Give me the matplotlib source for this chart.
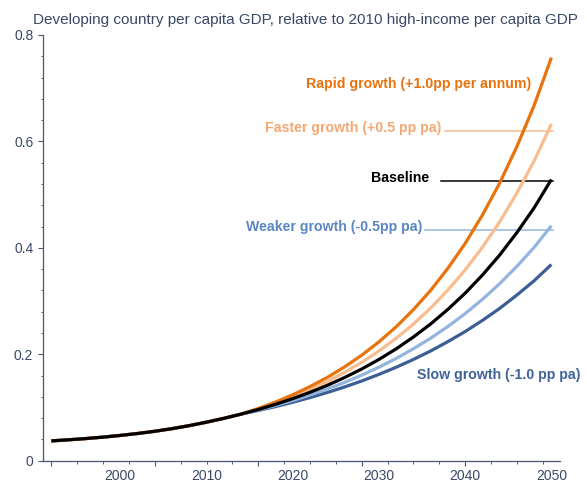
import matplotlib
matplotlib.use("Agg")
import matplotlib.pyplot as plt

years = [1992, 1994, 1996, 1998, 2000, 2002, 2004, 2006, 2008, 2010, 2012, 2014,
         2016, 2018, 2020, 2022, 2024, 2026, 2028, 2030, 2032, 2034, 2036, 2038,
         2040, 2042, 2044, 2046, 2048, 2050]

common = [0.0372, 0.0393, 0.0416, 0.0443, 0.0475, 0.0511, 0.0553, 0.0602, 0.0659,
          0.0724, 0.0796, 0.0875]

baseline = common + [0.0962, 0.1059, 0.1166, 0.1285, 0.1416, 0.1562, 0.1723, 0.1903,
                     0.2102, 0.2325, 0.2570, 0.2845, 0.3148, 0.3488, 0.3864, 0.4287,
                     0.4752, 0.5285]
rapid = common + [0.0981, 0.1102, 0.1238, 0.1392, 0.1565, 0.1761, 0.1982, 0.2233,
                  0.2517, 0.2840, 0.3202, 0.3617, 0.4083, 0.4615, 0.5216, 0.5904,
                  0.6676, 0.7575]
faster = common + [0.0972, 0.1080, 0.1202, 0.1337, 0.1489, 0.1659, 0.1848, 0.2062,
                   0.2300, 0.2570, 0.2869, 0.3208, 0.3585, 0.4012, 0.4489, 0.5031,
                   0.5633, 0.6327]
weaker = common + [0.0952, 0.1038, 0.1131, 0.1235, 0.1347, 0.1471, 0.1607, 0.1757,
                   0.1921, 0.2104, 0.2302, 0.2523, 0.2764, 0.3032, 0.3326, 0.3653,
                   0.4009, 0.4415]
slow = common + [0.0943, 0.1017, 0.1098, 0.1186, 0.1281, 0.1385, 0.1498, 0.1622,
                 0.1756, 0.1903, 0.2062, 0.2238, 0.2427, 0.2636, 0.2862, 0.3113,
                 0.3382, 0.3687]

labels = ["Rapid growth (+1.0pp per annum)", "Faster growth (+0.5 pp pa)", "Baseline",
          "Weaker growth (-0.5pp pa)", "Slow growth (-1.0 pp pa)"]

title = "Developing country per capita GDP, relative to 2010 high-income per capita GDP"
x_labels = [2000, 2010, 2020, 2030, 2040, 2050]
y_ticks = [0, 0.2, 0.4, 0.6, 0.8]

c_rapid = "#E8720C"
c_faster = "#F9BC8E"
c_base = "#000000"
c_weaker = "#93B5DD"
c_slow = "#3B5E95"
axis_col = "#4A5670"
text_col = "#3A4866"

fig = plt.figure(figsize=(5.87, 4.83), dpi=100)
ax = fig.add_axes([42.7 / 587, 1 - 460.7 / 483, (560 - 42.7) / 587, (460.7 - 35) / 483])

# draw lower series first, baseline on top
ax.plot(years, slow, color=c_slow, lw=2.3, solid_capstyle="butt", zorder=3)
ax.plot(years, weaker, color=c_weaker, lw=2.3, solid_capstyle="butt", zorder=3)
ax.plot(years, faster, color=c_faster, lw=2.3, solid_capstyle="butt", zorder=3)
ax.plot(years, rapid, color=c_rapid, lw=2.3, solid_capstyle="butt", zorder=3)
ax.plot(years, baseline, color=c_base, lw=2.3, solid_capstyle="butt", zorder=4)

ax.set_xlim(1991, 2051)
ax.set_ylim(0, 0.8)

# label annotations: (text, colour, x, y, ha, leader start, leader y)
lab_font = dict(family="Liberation Sans", fontsize=10.2, fontweight="bold")
ann = [
    (labels[0], c_rapid, 2047.7, 0.708, "right", None, None),
    (labels[1], "#F6A872", 2037.2, 0.625, "right", 2037.7, 0.620),
    (labels[2], c_base, 2035.8, 0.531, "right", 2037.2, 0.526),
    (labels[3], "#5B87C2", 2035.0, 0.439, "right", 2035.3, 0.434),
    (labels[4], "#3F629A", 2034.4, 0.161, "left", None, None),
]
line_cols = [c_rapid, c_faster, c_base, c_weaker, c_slow]
for (txt, col, x, y, ha, lx, ly), lc in zip(ann, line_cols):
    ax.text(x, y, txt, color=col, ha=ha, va="center", clip_on=False, **lab_font)
    if lx is not None:
        ax.plot([lx, 2050.2], [ly, ly], color=lc, lw=1.1, zorder=2)

# spines
for s in ["top", "right"]:
    ax.spines[s].set_visible(False)
for s in ["left", "bottom"]:
    ax.spines[s].set_color(axis_col)
    ax.spines[s].set_linewidth(0.9)

# y ticks
ax.set_yticks(y_ticks)
ax.set_yticklabels(["0", "0.2", "0.4", "0.6", "0.8"])
ax.set_yticks([i * 0.04 for i in range(21)], minor=True)
ax.tick_params(axis="y", which="major", direction="out", length=3.3, width=0.8,
               color=axis_col, labelcolor=text_col, labelsize=10, pad=3.5)
ax.tick_params(axis="y", which="minor", direction="out", length=1.8, width=0.7,
               color=axis_col)

# x ticks: minor every 3 years, major marks every 12, labels at decades
ax.set_xticks([1992, 2004, 2016, 2028, 2040])
ax.set_xticklabels([])
ax.set_xticks(list(range(1992, 2052, 3)), minor=True)
ax.tick_params(axis="x", which="major", direction="out", length=3.6, width=0.8,
               color=axis_col)
ax.tick_params(axis="x", which="minor", direction="out", length=2.0, width=0.7,
               color=axis_col)

sec = ax.secondary_xaxis("bottom")
sec.set_xticks(x_labels)
sec.set_xticklabels([str(v) for v in x_labels])
sec.tick_params(length=0, labelcolor=text_col, labelsize=10, pad=6.3)
sec.spines["bottom"].set_visible(False)

for t in ax.get_yticklabels() + sec.get_xticklabels():
    t.set_family("Liberation Sans")

fig.text(33 / 587, 1 - 20 / 483, title, ha="left", va="center", color=text_col,
         fontsize=11, family="Liberation Sans")

fig.savefig("out.png", dpi=100)
